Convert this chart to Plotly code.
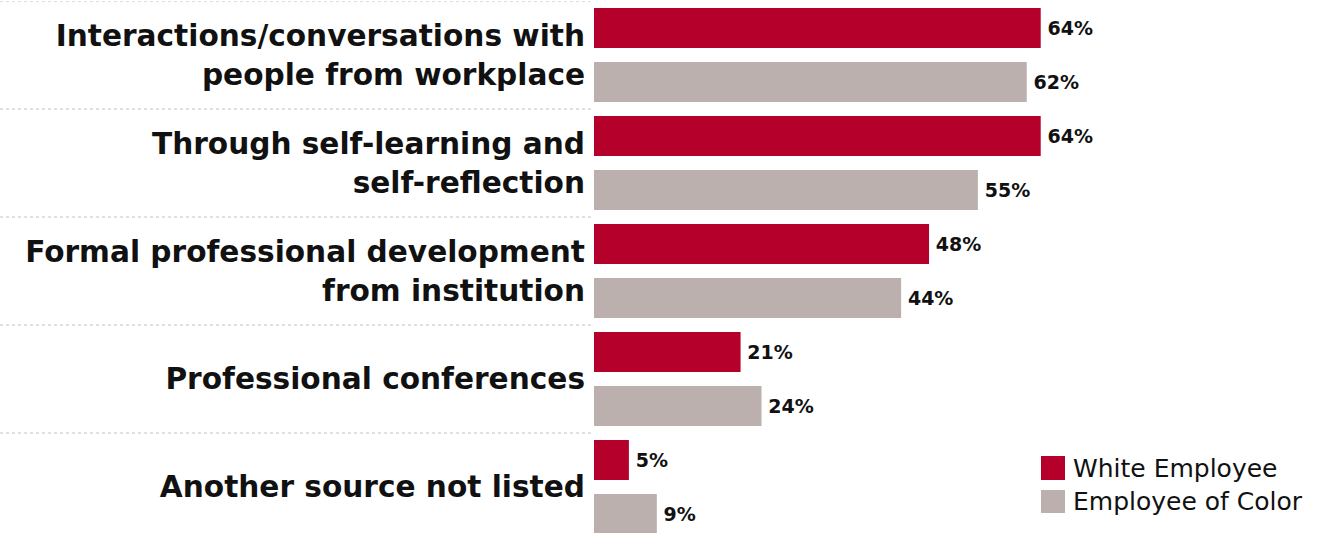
import plotly.graph_objects as go

categories = [
    "Interactions/conversations with<br>people from workplace",
    "Through self-learning and<br>self-reflection",
    "Formal professional development<br>from institution",
    "Professional conferences",
    "Another source not listed",
]
white_employee = [64, 64, 48, 21, 5]
employee_of_color = [62, 55, 44, 24, 9]
series_names = ["White Employee", "Employee of Color"]
series_colors = ["#b5002b", "#bbb0ad"]

W, H = 1327, 533
MT, MB = 1, 0
PLOT_LEFT = 594
PX_PER_PCT = 6.98
BAND_PX = 108
plot_h = H - MT - MB

fig = go.Figure()
for name, vals, col in zip(series_names, [white_employee, employee_of_color], series_colors):
    fig.add_trace(go.Bar(
        y=categories, x=vals, orientation="h", name=name,
        marker=dict(color=col, line=dict(width=0)),
        text=[f"\u2009{v}%" for v in vals],
        textposition="outside", constraintext="none", cliponaxis=False,
        textfont=dict(family="DejaVu Sans", size=19, color="#111111", weight="bold"),
        showlegend=False, hoverinfo="skip",
    ))

x_max = (W - PLOT_LEFT) / PX_PER_PCT
fig.update_layout(
    width=W, height=H,
    margin=dict(l=0, r=0, t=MT, b=MB, autoexpand=False),
    paper_bgcolor="white", plot_bgcolor="white",
    barmode="group", bargap=0, bargroupgap=0.26,
    xaxis=dict(domain=[PLOT_LEFT / W, 1], range=[0, x_max], visible=False,
               fixedrange=True, automargin=False),
    yaxis=dict(
        categoryorder="array", categoryarray=categories,
        range=[-0.5 + plot_h / BAND_PX, -0.5], automargin=False, fixedrange=True,
        showgrid=False, zeroline=False, showline=False, ticks="",
        ticklabelstandoff=8,
        tickfont=dict(family="DejaVu Sans", size=29.6, color="#111111", weight="bold"),
    ),
)

# dotted separators in the label column
for i in range(len(categories)):
    fig.add_shape(type="line", xref="paper", yref="y",
                  x0=0, x1=PLOT_LEFT / W, y0=i - 0.5, y1=i - 0.5,
                  line=dict(color="#c0c0c0", width=1, dash="dot"))

# custom legend
def py(p):
    return (H - MB - p) / plot_h

legend_rows = [(456, 480), (490, 513)]
for (top, bot), name, col in zip(legend_rows, series_names, series_colors):
    fig.add_shape(type="rect", xref="paper", yref="paper",
                  x0=1041 / W, x1=1065 / W, y0=py(bot), y1=py(top),
                  fillcolor=col, line=dict(width=0))
    fig.add_annotation(xref="paper", yref="paper", x=1071 / W, y=py((top + bot) / 2),
                       xanchor="left", yanchor="middle", showarrow=False, text=name,
                       font=dict(family="DejaVu Sans", size=25, color="#111111"))

fig.write_html("out.html", config={"displayModeBar": False},
               post_script="document.body.style.margin='0';")
